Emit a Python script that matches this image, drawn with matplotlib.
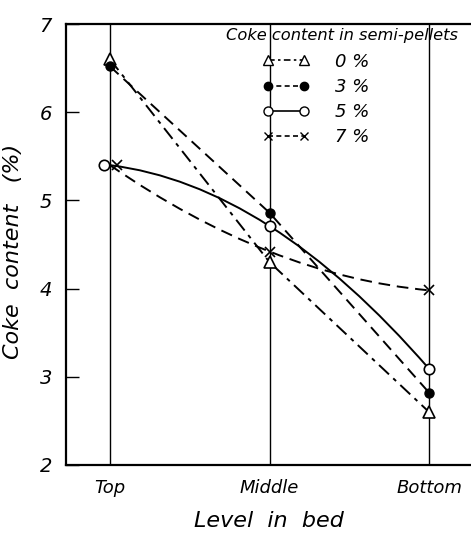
import numpy as np
import matplotlib
matplotlib.use('Agg')
import matplotlib.pyplot as plt
from matplotlib.path import Path
from matplotlib.patches import PathPatch
from matplotlib.lines import Line2D
from matplotlib.transforms import ScaledTranslation

# data
levels = ['Top', 'Middle', 'Bottom']
coke_0 = [6.6, 4.3, 2.6]
coke_3 = [6.52, 4.86, 2.82]
coke_5 = [5.4, 4.71, 3.09]
coke_7 = [5.4, 4.42, 3.98]
series_labels = ['0 %', '3 %', '5 %', '7 %']

x = np.arange(len(levels))

plt.rcParams['font.family'] = 'DejaVu Sans'
plt.rcParams['font.style'] = 'italic'

fig = plt.figure(figsize=(4.71, 5.35), dpi=100, facecolor='w')
ax = fig.add_axes([0.140, 0.131, 0.86, 0.824])

lw = 1.4
dashdot = (0, (7, 3, 2, 3))
dashed = (0, (6, 3.5))

# straight lines
ax.plot(x, coke_0, color='k', lw=lw, linestyle=dashdot, zorder=3)
ax.plot(x, coke_3, color='k', lw=lw, linestyle=dashed, zorder=3)


# curved lines, one quadratic curve through the three readings
def curve(ys, ls):
    ctrl = 2 * ys[1] - (ys[0] + ys[2]) / 2
    verts = [(x[0], ys[0]), (x[1], ctrl), (x[2], ys[2])]
    p = Path(verts, [Path.MOVETO, Path.CURVE3, Path.CURVE3])
    ax.add_patch(PathPatch(p, fill=False, edgecolor='k', lw=lw, linestyle=ls, zorder=3))


curve(coke_5, '-')
curve(coke_7, dashed)

# markers (the top ones of 5 % and 7 % are set side by side)
ax.plot(x, coke_0, ls='none', marker='^', ms=8, mfc='w', mec='k', mew=1.2, zorder=4)
ax.plot(x, coke_3, ls='none', marker='o', ms=6.5, mfc='k', mec='k', zorder=4)
ax.plot(x[1:], coke_5[1:], ls='none', marker='o', ms=7.5, mfc='w', mec='k', mew=1.2, zorder=4)
ax.plot(x[1:], coke_7[1:], ls='none', marker='x', ms=7, mec='k', mew=1.2, zorder=4)
left = ax.transData + ScaledTranslation(-0.06, 0, fig.dpi_scale_trans)
right = ax.transData + ScaledTranslation(0.07, 0, fig.dpi_scale_trans)
ax.plot(x[:1], coke_5[:1], ls='none', marker='o', ms=7.5, mfc='w', mec='k', mew=1.2,
        transform=left, zorder=4)
ax.plot(x[:1], coke_7[:1], ls='none', marker='x', ms=7, mec='k', mew=1.2,
        transform=right, zorder=4)

ax.set_xlim(-0.276, 2.263)
ax.set_ylim(2, 7)
ax.set_xticks(x)
ax.set_xticklabels(levels, fontsize=13)
ax.set_yticks(range(2, 8))
ax.set_yticklabels([str(v) for v in range(2, 8)], fontsize=14)
ax.set_yticks([4, 6], minor=True)
ax.tick_params(axis='x', length=0, pad=10)
ax.tick_params(axis='y', which='major', direction='in', length=9, width=1, pad=10)
ax.tick_params(axis='y', which='minor', length=0)
ax.grid(True, axis='x', color='k', lw=1)
ax.grid(True, axis='y', which='minor', color='k', lw=1)

for s in ['left', 'top', 'bottom']:
    ax.spines[s].set_linewidth(1.6)
ax.spines['right'].set_visible(False)

ax.set_xlabel('Level  in  bed', fontsize=16, labelpad=10)
ax.set_ylabel('Coke  content   (%)', fontsize=16)
ax.yaxis.set_label_coords(-0.107, 0.485)

# legend: title as its own text, entries below it
ax.text(0.968, 0.99, 'Coke content in semi-pellets', transform=ax.transAxes,
        ha='right', va='top', fontsize=11.7, zorder=5)
handles = [
    Line2D([], [], color='k', lw=1.2, linestyle=(0, (4, 2, 1.5, 2)), marker='^', ms=7, mfc='w', mec='k'),
    Line2D([], [], color='k', lw=1.2, linestyle=(0, (3, 2)), marker='o', ms=6, mfc='k', mec='k'),
    Line2D([], [], color='k', lw=1.2, linestyle='-', marker='o', ms=6.5, mfc='w', mec='k'),
    Line2D([], [], color='k', lw=1.2, linestyle=(0, (3, 2)), marker='x', ms=6, mec='k'),
]
leg = ax.legend(handles, series_labels, loc='upper left', bbox_to_anchor=(0.485, 0.935),
                frameon=False, fontsize=13, numpoints=2, handlelength=2.6,
                handletextpad=1.4, labelspacing=0.4, borderaxespad=0, borderpad=0)
leg.set_zorder(5)

fig.savefig('out.png', dpi=100, facecolor='w')
